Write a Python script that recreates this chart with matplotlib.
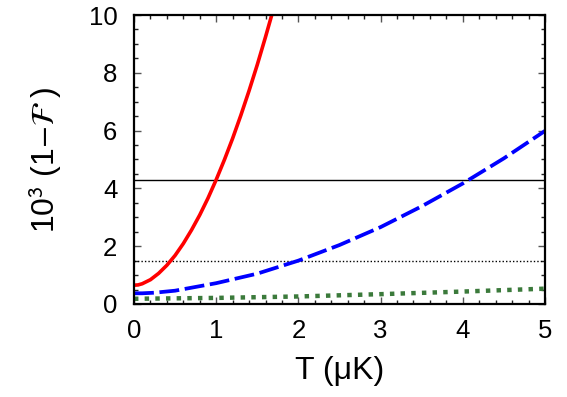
import numpy as np
import matplotlib
matplotlib.use("Agg")
import matplotlib.pyplot as plt
from matplotlib.ticker import MultipleLocator

plt.rcParams['font.family'] = ['Liberation Sans', 'DejaVu Sans']
plt.rcParams['mathtext.fontset'] = 'stixsans'

# data
t_red = [0.0, 0.05, 0.1, 0.2, 0.3, 0.4, 0.5, 0.6, 0.7, 0.8, 0.9, 1.0, 1.1, 1.2, 1.3, 1.4, 1.5, 1.6, 1.7]
f_red = [0.65, 0.66, 0.70, 0.84, 1.06, 1.34, 1.68, 2.09, 2.56, 3.08, 3.66, 4.30, 4.99, 5.73, 6.53, 7.38, 8.28, 9.24, 10.24]

t_blue = [0.0, 0.1, 0.25, 0.5, 1.0, 1.5, 2.0, 2.5, 3.0, 3.5, 4.0, 4.5, 5.0]
f_blue = [0.37, 0.37, 0.39, 0.46, 0.72, 1.05, 1.50, 2.04, 2.66, 3.38, 4.17, 5.04, 5.99]

t_green = [0.0, 1.0, 2.0, 3.0, 4.0, 5.0]
f_green = [0.18, 0.21, 0.26, 0.34, 0.43, 0.53]

h_solid = 4.28
h_dotted = 1.5

fig = plt.figure(figsize=(5.67, 3.97), dpi=100)
ax = fig.add_axes([0.2363, 0.2343, 0.7249, 0.7279])

ax.axhline(h_solid, color='black', lw=1.0)
ax.axhline(h_dotted, color='black', lw=1.0, ls=(0, (1, 1.5)))
ax.plot(t_green, f_green, color='#3b7a3b', lw=3.2, ls=(0, (1, 1.4)))
ax.plot(t_blue, f_blue, color='#0000ff', lw=2.7, ls=(0, (5.3, 1.5)))
ax.plot(t_red, f_red, color='#ff0000', lw=2.6)

ax.set_xlim(0, 5)
ax.set_ylim(0, 10)
ax.xaxis.set_major_locator(MultipleLocator(1))
ax.xaxis.set_minor_locator(MultipleLocator(0.2))
ax.yaxis.set_major_locator(MultipleLocator(2))
ax.yaxis.set_minor_locator(MultipleLocator(0.5))
ax.tick_params(which='both', direction='in', top=True, right=True, labelsize=18.5)
ax.tick_params(axis='x', which='both', pad=11)
ax.tick_params(axis='y', which='both', pad=12)
ax.tick_params(which='major', length=5, width=1.0, color='#555555')
ax.tick_params(which='minor', length=3, width=1.0, color='#222222')
for s in ax.spines.values():
    s.set_linewidth(1.6)

ax.set_xlabel('T (μK)', fontsize=23, labelpad=9)
ax.set_ylabel(r'10$^3$ (1$-\mathcal{F}\ $)', fontsize=23, labelpad=18)

fig.savefig('out.png', dpi=100)
